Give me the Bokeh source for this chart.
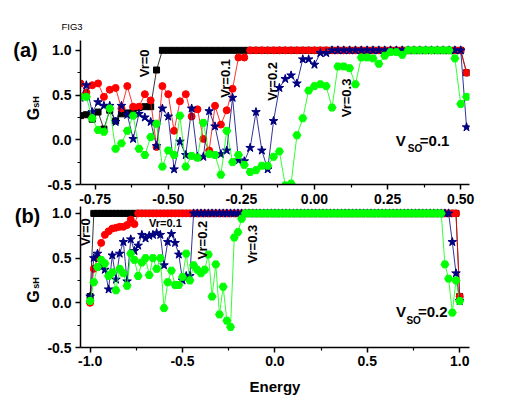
import numpy as np
from bokeh.plotting import figure
from bokeh.layouts import column, row
from bokeh.models import Label, FixedTicker, Range1d, PrintfTickFormatter
from bokeh.embed import file_html
from bokeh.resources import INLINE

FONT = "Liberation Sans"

# ---------------- panel (a): V_SO = 0.1 ----------------
energy_a = [-0.80, -0.78, -0.76, -0.74, -0.72, -0.70, -0.68, -0.66, -0.64, -0.62,
            -0.60, -0.58, -0.56, -0.54, -0.52, -0.50, -0.48, -0.46, -0.44, -0.42,
            -0.40, -0.38, -0.36, -0.34, -0.32, -0.30, -0.28, -0.26, -0.24, -0.22,
            -0.20, -0.18, -0.16, -0.14, -0.12, -0.10, -0.08, -0.06, -0.04, -0.02,
            0.00, 0.02, 0.04, 0.06, 0.08, 0.10, 0.12, 0.14, 0.16, 0.18,
            0.20, 0.22, 0.24, 0.26, 0.28, 0.30, 0.32, 0.34, 0.36, 0.38,
            0.40, 0.42, 0.44, 0.46, 0.48, 0.50, 0.52]

vr0_a = [0.27, 0.28, 0.23, 0.31, 0.12, 0.33, 0.21, 0.29, 0.30, 0.32,
         0.36, 0.37, 0.37, 0.78, 1, 1, 1, 1, 1, 1,
         1, 1, 1, 1, 1, 1, 1, 1, 1, 1,
         1, 1, 1, 1, 1, 1, 1, 1, 1, 1,
         1, 1, 1, 1, 1, 1, 1, 1, 1, 1,
         1, 1, 1, 1, 1, 1, 1, 1, 1, 1,
         1, 1, 1, 1, 1, 1, 0.75]

vr01_a = [0.63, 0.53, 0.61, 0.63, 0.48, 0.56, 0.58, 0.35, 0.60, 0.37,
          0.37, 0.51, 0.44, -0.08, 0.60, 0.51, 0.10, 0.43, 0.51, 0.26,
          0.34, 0.01, -0.12, 0.38, 0.17, 0.33, 0.57, 0.92, 0.92, 1,
          1, 1, 1, 1, 1, 1, 1, 1, 1, 1,
          1, 1, 1, 1, 1, 1, 1, 1, 1, 1,
          1, 1, 1, 1, 1, 1, 1, 1, 1, 1,
          1, 1, 1, 1, 1, 1, 0.75]

vr02_a = [0.47, 0.61, 0.31, 0.42, 0.38, 0.38, 0.20, 0.38, 0.28, 0.01,
          0.29, 0.25, 0.20, -0.07, 0.35, 0.26, -0.33, -0.02, -0.17, 0.35,
          -0.19, -0.19, 0.32, 0.15, -0.16, -0.12, 0.47, -0.23, -0.24, -0.09,
          0.31, -0.12, -0.33, 0.21, 0.58, 0.68, 0.72, 0.63, 0.90, 0.90,
          0.84, 0.97, 0.97, 1, 1, 1, 1, 1, 1, 1,
          1, 1, 1, 1, 1, 1, 1, 1, 1, 1,
          1, 1, 1, 1, 1, 1, 0.14]

vr03_a = [0.48, 0.48, 0.24, 0.11, 0.09, 0.35, -0.10, -0.04, 0.10, 0.27,
          -0.10, -0.17, 0.03, 0.18, -0.30, -0.12, -0.17, 0.27, -0.30, -0.18,
          -0.20, 0.19, -0.16, -0.17, -0.39, 0.10, -0.25, -0.17, -0.28, -0.36,
          -0.34, -0.29, -0.29, -0.19, -0.13, -0.51, -0.49, 0.05, 0.24, 0.55,
          0.60, 0.62, 0.60, 0.36, 0.82, 0.82, 0.80, 0.62, 0.92, 0.92,
          0.91, 0.85, 0.94, 0.98, 0.98, 0.95, 1, 1, 1, 1,
          1, 1, 1, 1, 0.91, 0.40, 0.48]

# ---------------- panel (b): V_SO = 0.2 ----------------
energy_b = [-1.00, -0.98, -0.96, -0.94, -0.92, -0.90, -0.88, -0.86, -0.84, -0.82,
            -0.80, -0.78, -0.76, -0.74, -0.72, -0.70, -0.68, -0.66, -0.64, -0.62,
            -0.60, -0.58, -0.56, -0.54, -0.52, -0.50, -0.48, -0.46, -0.44, -0.42,
            -0.40, -0.38, -0.36, -0.34, -0.32, -0.30, -0.28, -0.26, -0.24, -0.22,
            -0.20, -0.18, -0.16, -0.14, -0.12, -0.10, -0.08, -0.06, -0.04, -0.02,
            0.00, 0.02, 0.04, 0.06, 0.08, 0.10, 0.12, 0.14, 0.16, 0.18,
            0.20, 0.22, 0.24, 0.26, 0.28, 0.30, 0.32, 0.34, 0.36, 0.38,
            0.40, 0.42, 0.44, 0.46, 0.48, 0.50, 0.52, 0.54, 0.56, 0.58,
            0.60, 0.62, 0.64, 0.66, 0.68, 0.70, 0.72, 0.74, 0.76, 0.78,
            0.80, 0.82, 0.84, 0.86, 0.88, 0.90, 0.92, 0.94, 0.96, 0.98,
            1.00]

vr0_b = [0.07, 1, 1, 1, 1, 1, 1, 1, 1, 1,
         1, 1, 1, 1, 1, 1, 1, 1, 1, 1,
         1, 1, 1, 1, 1, 1, 1, 1, 1, 1,
         1, 1, 1, 1, 1, 1, 1, 1, 1, 1,
         1, 1, 1, 1, 1, 1, 1, 1, 1, 1,
         1, 1, 1, 1, 1, 1, 1, 1, 1, 1,
         1, 1, 1, 1, 1, 1, 1, 1, 1, 1,
         1, 1, 1, 1, 1, 1, 1, 1, 1, 1,
         1, 1, 1, 1, 1, 1, 1, 1, 1, 1,
         1, 1, 1, 1, 1, 1, 1, 1, 1, 1,
         0.07]

vr01_b = [0.00, 0.38, 0.50, 0.67, 0.76, 0.80, 0.83, 0.84, 0.85, 0.85,
          0.87, 0.93, 0.88, 1, 1, 1, 1, 1, 1, 1,
          1, 1, 1, 1, 1, 1, 1, 1, 1, 1,
          1, 1, 1, 1, 1, 1, 1, 1, 1, 1,
          1, 1, 1, 1, 1, 1, 1, 1, 1, 1,
          1, 1, 1, 1, 1, 1, 1, 1, 1, 1,
          1, 1, 1, 1, 1, 1, 1, 1, 1, 1,
          1, 1, 1, 1, 1, 1, 1, 1, 1, 1,
          1, 1, 1, 1, 1, 1, 1, 1, 1, 1,
          1, 1, 1, 1, 1, 1, 1, 1, 1, 1,
          0.07]

vr02_b = [0.07, 0.50, 0.55, 0.40, 0.37, 0.15, 0.53, 0.26, 0.55, 0.68,
          0.24, 0.71, 0.58, 0.64, 0.76, 0.72, 0.75, 0.76, 0.78, 0.76,
          0.42, 0.68, 0.77, 0.67, 0.54, 0.25, 0.30, 0.30, 1, 1,
          1, 1, 1, 1, 1, 1, 1, 1, 1, 1,
          1, 1, 1, 1, 1, 1, 1, 1, 1, 1,
          1, 1, 1, 1, 1, 1, 1, 1, 1, 1,
          1, 1, 1, 1, 1, 1, 1, 1, 1, 1,
          1, 1, 1, 1, 1, 1, 1, 1, 1, 1,
          1, 1, 1, 1, 1, 1, 1, 1, 1, 1,
          1, 1, 1, 1, 1, 1, 1, 1, 0.68, 0.33,
          0.02]

vr03_b = [0.02, 0.23, 0.40, 0.48, 0.44, 0.30, 0.34, 0.14, 0.38, 0.33,
          0.19, 0.55, 0.48, 0.30, 0.45, 0.50, 0.31, 0.50, 0.38, 0.50,
          -0.06, 0.23, 0.36, 0.20, 0.20, 0.29, 0.55, 0.25, 0.42, 0.37,
          0.33, 0.37, 0.54, 0.07, 0.43, -0.13, 0.18, -0.20, -0.27, 0.73,
          0.79, 0.94, 1, 1, 1, 1, 1, 1, 1, 1,
          1, 1, 1, 1, 1, 1, 1, 1, 1, 1,
          1, 1, 1, 1, 1, 1, 1, 1, 1, 1,
          1, 1, 1, 1, 1, 1, 1, 1, 1, 1,
          1, 1, 1, 1, 1, 1, 1, 1, 1, 1,
          1, 1, 1, 1, 1, 1, 0.43, 0.27, -0.11, 0.25,
          0.02]

# ---------------- ticks ----------------
xticks_a = [-0.75, -0.50, -0.25, 0.00, 0.25, 0.50]
xminor_a = [-0.625, -0.375, -0.125, 0.125, 0.375]
xticks_b = [-1.0, -0.5, 0.0, 0.5, 1.0]
xminor_b = [-0.75, -0.25, 0.25, 0.75]
yticks = [-0.5, 0.0, 0.5, 1.0]
yminor = [-0.25, 0.25, 0.75]

series_style = [
    ("black", "square", 6),
    ("#ff0000", "circle", 7),
    ("#000080", "star", 9),
    ("#00ff00", "hex", 8),
]

SIDE_W = 44


def style_axes(p, xticks, xminor, xfmt):
    for ax in (p.xaxis[0], p.yaxis[0]):
        ax.axis_line_width = 1.5
        ax.axis_line_color = "black"
        ax.major_tick_line_width = 1.5
        ax.minor_tick_line_width = 1.2
        ax.major_tick_out = 5
        ax.major_tick_in = 0
        ax.minor_tick_out = 3
        ax.minor_tick_in = 0
        ax.major_label_text_font = FONT
        ax.major_label_text_font_style = "bold"
        ax.major_label_text_font_size = "14px"
        ax.major_label_text_color = "black"
    p.xaxis[0].ticker = FixedTicker(ticks=xticks, minor_ticks=xminor)
    p.xaxis[0].formatter = PrintfTickFormatter(format=xfmt)
    p.yaxis[0].ticker = FixedTicker(ticks=yticks, minor_ticks=yminor)
    p.yaxis[0].formatter = PrintfTickFormatter(format="%.1f")
    p.xaxis[0].major_label_standoff = 4
    p.yaxis[0].major_label_standoff = 4


def add_text(p, x, y, text, size, angle=0.0, align="center", bold=True):
    p.add_layout(Label(x=x, y=y, text=text, text_font=FONT,
                       text_font_style="bold" if bold else "normal",
                       text_font_size=size, angle=angle, text_align=align,
                       text_baseline="middle", text_color="black"))


def make_fig(xr, yr, fh, top, bottom):
    p = figure(x_range=Range1d(*xr), y_range=Range1d(*yr),
               frame_width=389, frame_height=fh,
               min_border_left=78 - SIDE_W, min_border_right=41,
               min_border_top=top, min_border_bottom=bottom,
               output_backend="svg", toolbar_location=None,
               background_fill_color="white", border_fill_color="white")
    p.outline_line_color = None
    p.xgrid.visible = False
    p.ygrid.visible = False
    return p


def make_side(main, fh):
    # narrow strip left of a panel (same y scale), for the panel letter and G_sH
    s = figure(x_range=Range1d(0, SIDE_W), y_range=main.y_range,
               frame_width=SIDE_W, frame_height=fh,
               min_border_left=0, min_border_right=0,
               min_border_top=0, min_border_bottom=0,
               x_axis_type=None, y_axis_type=None,
               output_backend="svg", toolbar_location=None,
               background_fill_color="white", border_fill_color="white")
    s.outline_line_color = None
    s.xgrid.visible = False
    s.ygrid.visible = False
    return s


R90 = np.pi / 2

# ---- panel (a) ----
pa = make_fig((-0.8, 0.53), (-0.5, 1.11), 144, 40, 21)
style_axes(pa, xticks_a, xminor_a, "%.2f")
pa.title.text = "FIG3"
pa.title.align = "left"
pa.title.offset = -19
pa.title.standoff = 17
pa.title.text_font = FONT
pa.title.text_font_style = "normal"
pa.title.text_font_size = "9.5px"
pa.title.text_color = "black"
for ys, (col, mk, sz) in zip([vr0_a, vr01_a, vr02_a, vr03_a], series_style):
    pa.line(energy_a, ys, line_color=col, line_width=1, line_alpha=0.8)
    pa.scatter(energy_a, ys, marker=mk, size=sz, fill_color=col, line_color=col)

add_text(pa, -0.5806, 0.8545, "Vr=0", "13px", angle=R90)
add_text(pa, -0.3052, 0.6866, "Vr=0.1", "13px", angle=R90)
add_text(pa, -0.1427, 0.653, "Vr=0.2", "13px", angle=R90)
add_text(pa, 0.1105, 0.468, "Vr=0.3", "13px", angle=R90)
add_text(pa, 0.2781, -0.0075, "V", "15px", align="left")
add_text(pa, 0.3192, -0.1026, "SO", "10px", align="left")
add_text(pa, 0.3601, -0.0075, "=0.1", "15px", align="left")

sa = make_side(pa, 144)
add_text(sa, 25, 1.0, "(a)", "20px")
add_text(sa, 32.5, 0.289, "G", "16px", angle=R90)
add_text(sa, 35, 0.4235, "sH", "9px", angle=R90)

# ---- panel (b) ----
pb = make_fig((-1.052, 1.053), (-0.5, 1.077), 141, 0, 45)
style_axes(pb, xticks_b, xminor_b, "%.1f")
pb.xaxis[0].major_label_standoff = 3
pb.xaxis[0].axis_label = "Energy"
pb.xaxis[0].axis_label_text_font = FONT
pb.xaxis[0].axis_label_text_font_style = "bold"
pb.xaxis[0].axis_label_text_font_size = "15px"
pb.xaxis[0].axis_label_text_color = "black"
pb.xaxis[0].axis_label_standoff = 9
for ys, (col, mk, sz) in zip([vr0_b, vr01_b, vr02_b, vr03_b], series_style):
    pb.line(energy_b, ys, line_color=col, line_width=1, line_alpha=0.8)
    pb.scatter(energy_b, ys, marker=mk, size=sz, fill_color=col, line_color=col)

add_text(pb, -1.0227, 0.7908, "Vr=0", "13px", angle=R90)
add_text(pb, -0.5925, 0.8915, "Vr=0.1", "11px")
add_text(pb, -0.3896, 0.7013, "Vr=0.2", "13px", angle=R90)
add_text(pb, -0.119, 0.6566, "Vr=0.3", "13px", angle=R90)
add_text(pb, 0.6548, -0.0984, "V", "15px", align="left")
add_text(pb, 0.7116, -0.1935, "SO", "10px", align="left")
add_text(pb, 0.7738, -0.0984, "=0.2", "15px", align="left")

sb = make_side(pb, 141)
add_text(sb, 27, 0.97, "(b)", "20px")
add_text(sb, 33, 0.0694, "G", "16px", angle=R90)
add_text(sb, 35.5, 0.2204, "sH", "9px", angle=R90)

layout = column(row(sa, pa), row(sb, pb))
open("out.html", "w").write(file_html(layout, INLINE))
